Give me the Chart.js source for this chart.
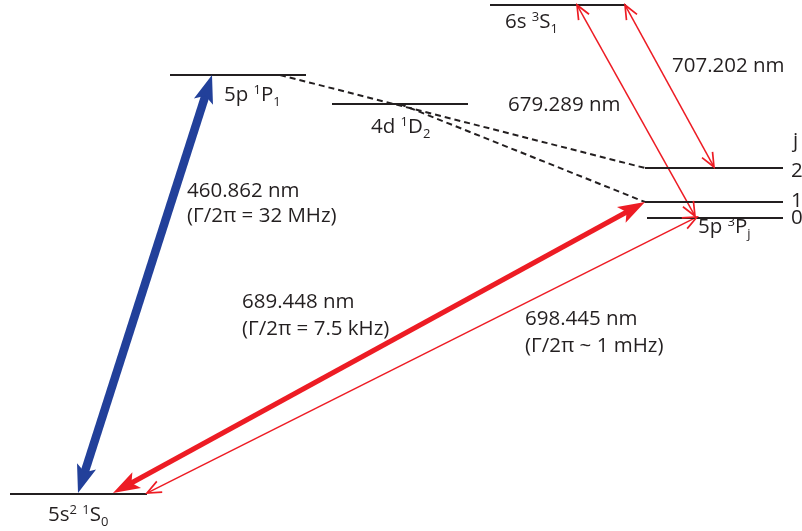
<!DOCTYPE html>
<html>
<head>
<meta charset="utf-8">
<script src="https://cdn.jsdelivr.net/npm/chart.js@4.4.1/dist/chart.umd.min.js"></script>
<style>
  html, body { margin: 0; padding: 0; background: #fff; }
  canvas { display: block; }
</style>
</head>
<body>
<canvas id="c" width="802" height="531"></canvas>
<script>
// Sr level diagram, drawn in a 802x531 "pixel" data space (y grows downward)

// energy levels
const levelNames = ['5s2 1S0', '5p 1P1', '4d 1D2', '6s 3S1', '5p 3P2', '5p 3P1', '5p 3P0'];
const levelX0 = [10, 170, 332, 490, 645, 645, 647];
const levelX1 = [147, 306, 468, 626, 783, 783, 783];
const levelY = [494, 75, 104, 5, 168, 202, 218];

// decay paths (dashed)
const decayFrom = [[280, 75], [400, 104]];
const decayTo = [[645, 168], [645, 202]];

// transitions (double headed arrows)
const transNames = ['460.862 nm', '689.448 nm', '698.445 nm', '679.289 nm', '707.202 nm'];
const transFrom = [[78, 493], [113, 493], [147, 493], [695, 216], [714, 167]];
const transTo = [[212, 75], [645, 202], [697, 217], [577, 5], [625, 5]];
const transKind = ['blue', 'thick', 'thin', 'thin', 'thin'];

// text: ^x = superscript char, _x = subscript char
const labelText = [
  '5s^2 ^1S_0', '5p ^1P_1', '4d ^1D_2', '6s ^3S_1', '5p ^3P_j',
  'j', '2', '1', '0',
  '460.862 nm', '(Γ/2π = 32 MHz)',
  '689.448 nm', '(Γ/2π = 7.5 kHz)',
  '698.445 nm', '(Γ/2π ~ 1 mHz)',
  '679.289 nm', '707.202 nm',
];
const labelX = [48, 224, 371, 505, 698, 793, 791, 791, 791, 187, 187, 242, 242, 525, 525, 508, 672];
const labelY = [521, 101, 133, 28, 233, 147, 177, 207, 224, 197, 222, 308, 335, 325, 352, 111, 72];

const INK = '#231f20';
const arrowStyle = {
  blue:  { color: '#22409a', width: 8.5, len: 28, half: 10, filled: true },
  thick: { color: '#ed1c24', width: 5,   len: 27, half: 9,  filled: true },
  thin:  { color: '#ed1c24', width: 1.5, len: 14, half: 6,  filled: false },
};

function seg(a, b) { return [{ x: a[0], y: a[1] }, { x: b[0], y: b[1] }]; }

const datasets = [];
levelY.forEach((y, i) => {
  datasets.push({ label: levelNames[i], data: seg([levelX0[i], y], [levelX1[i], y]),
    showLine: true, borderColor: INK, borderWidth: 2, pointRadius: 0 });
});
decayFrom.forEach((p, i) => {
  datasets.push({ label: 'decay', data: seg(p, decayTo[i]),
    showLine: true, borderColor: INK, borderWidth: 2, borderDash: [6, 4], pointRadius: 0 });
});
transFrom.forEach((p, i) => {
  const st = arrowStyle[transKind[i]];
  // pull the shaft in a bit so it hides under the heads
  const q = transTo[i];
  const dx = q[0] - p[0], dy = q[1] - p[1], d = Math.hypot(dx, dy);
  const k = st.filled ? st.len * 0.6 / d : 1 / d;
  const a = [p[0] + dx * k, p[1] + dy * k], b = [q[0] - dx * k, q[1] - dy * k];
  datasets.push({ label: transNames[i], kind: transKind[i], ends: [p, q], data: seg(a, b),
    showLine: true, borderColor: st.color, borderWidth: st.width, pointRadius: 0 });
});

const arrowHeads = {
  id: 'arrowHeads',
  afterDatasetsDraw(chart) {
    const { ctx, scales: { x, y } } = chart;
    chart.data.datasets.forEach(ds => {
      if (!ds.kind) return;
      const st = arrowStyle[ds.kind];
      const [p, q] = ds.ends.map(e => [x.getPixelForValue(e[0]), y.getPixelForValue(e[1])]);
      [[q, p], [p, q]].forEach(([tip, from]) => {
        const ang = Math.atan2(tip[1] - from[1], tip[0] - from[0]);
        const ux = Math.cos(ang), uy = Math.sin(ang), nx = -uy, ny = ux;
        const bx = tip[0] - ux * st.len, by = tip[1] - uy * st.len;
        ctx.save();
        if (st.filled) {
          const mx = tip[0] - ux * st.len * 0.78, my = tip[1] - uy * st.len * 0.78;
          ctx.fillStyle = st.color;
          ctx.beginPath();
          ctx.moveTo(tip[0], tip[1]);
          ctx.lineTo(bx + nx * st.half, by + ny * st.half);
          ctx.lineTo(mx, my);
          ctx.lineTo(bx - nx * st.half, by - ny * st.half);
          ctx.closePath();
          ctx.fill();
        } else {
          ctx.strokeStyle = st.color;
          ctx.lineWidth = 1.7;
          ctx.lineJoin = 'miter';
          ctx.beginPath();
          ctx.moveTo(bx + nx * st.half, by + ny * st.half);
          ctx.lineTo(tip[0], tip[1]);
          ctx.lineTo(bx - nx * st.half, by - ny * st.half);
          ctx.stroke();
        }
        ctx.restore();
      });
    });
  }
};

const FONT = '"Open Sans", "Noto Sans", sans-serif';
function drawRich(ctx, str, px, py) {
  let cx = px;
  for (let i = 0; i < str.length; i++) {
    let ch = str[i], size = 20.5, dy = 0;
    if ((ch === '^' || ch === '_') && i + 1 < str.length) {
      size = 13;
      dy = ch === '^' ? -7.5 : 4.5;
      ch = str[++i];
    }
    ctx.font = size + 'px ' + FONT;
    ctx.fillText(ch, cx, py + dy);
    cx += ctx.measureText(ch).width;
  }
}

const textLabels = {
  id: 'textLabels',
  afterDraw(chart) {
    const { ctx, scales: { x, y } } = chart;
    ctx.save();
    ctx.fillStyle = INK;
    ctx.textBaseline = 'alphabetic';
    ctx.textAlign = 'left';
    labelText.forEach((t, i) => drawRich(ctx, t, x.getPixelForValue(labelX[i]), y.getPixelForValue(labelY[i])));
    ctx.restore();
  }
};

new Chart(document.getElementById('c'), {
  type: 'scatter',
  data: { datasets },
  options: {
    responsive: false,
    animation: false,
    devicePixelRatio: 1,
    events: [],
    layout: { padding: 0 },
    scales: {
      x: { type: 'linear', min: 0, max: 802, display: false },
      y: { type: 'linear', min: 0, max: 531, reverse: true, display: false },
    },
    plugins: { legend: { display: false }, tooltip: { enabled: false } },
  },
  plugins: [arrowHeads, textLabels],
});
</script>
</body>
</html>
